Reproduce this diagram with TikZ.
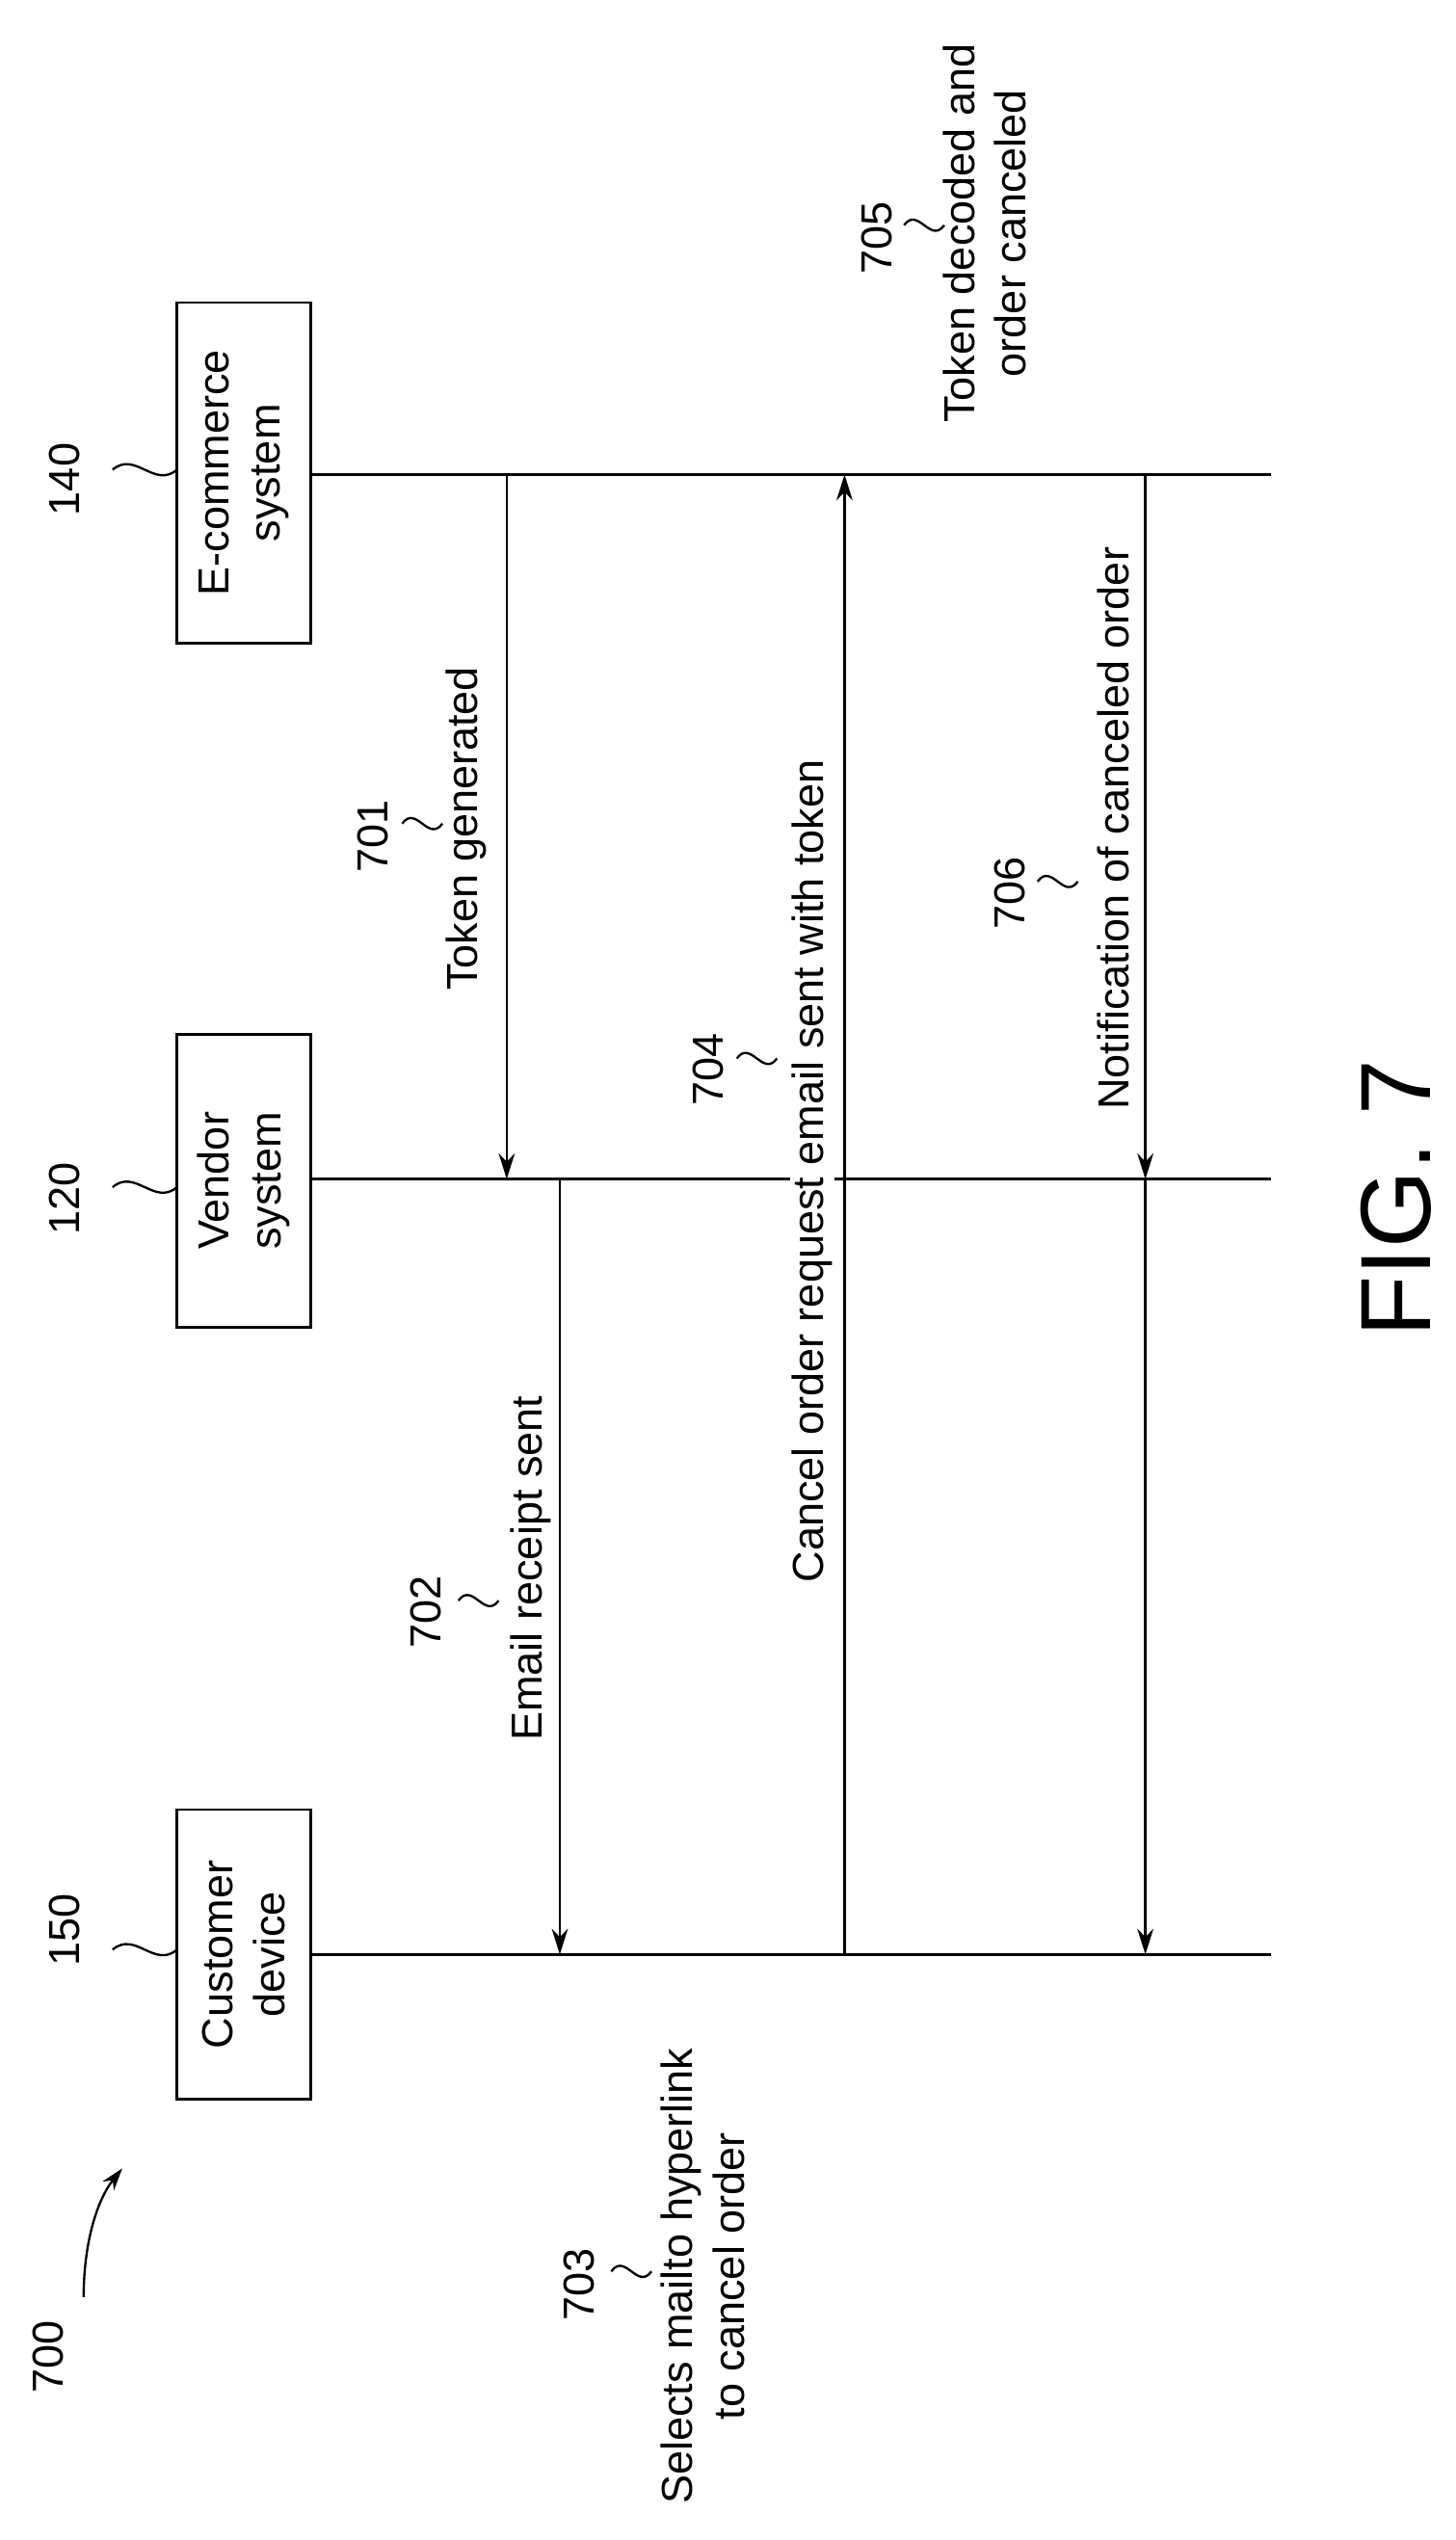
\documentclass[tikz,border=0pt]{standalone}
\usepackage{fontspec}
\setmainfont{Liberation Sans}
\usetikzlibrary{arrows.meta}
\begin{document}
\begin{tikzpicture}[x=1pt,y=-1pt,line width=1.6pt,
  txt/.style={rotate=90,font=\fontsize{27}{32}\selectfont,align=center,inner sep=1pt},
  box/.style={draw,rotate=90,minimum width=180pt,minimum height=83pt,font=\fontsize{27}{32}\selectfont,align=center},
  arr/.style={-{Stealth[length=16pt,width=10pt]}},
  sq/.style={line width=1.4pt}]
\useasboundingbox (0,0) rectangle (905,1579);
\fill[white] (0,0) rectangle (905,1579);
% boxes
\node[box,minimum width=212pt] (ec) at (151.5,294) {E-commerce\\system};
\node[box,minimum width=182pt] (vs) at (151.5,734) {Vendor\\system};
\node[box] (cd) at (151.5,1215) {Customer\\device};
% lifelines
\coordinate (e0) at (193,295); \coordinate (e1) at (790,295);
\coordinate (v0) at (193,733); \coordinate (v1) at (790,733);
\coordinate (c0) at (193,1215); \coordinate (c1) at (790,1215);
\draw (e0)--(e1); \draw (v0)--(v1); \draw (c0)--(c1);
% arrows
\coordinate (a1s) at (315,295); \coordinate (a1e) at (315,733);
\draw[arr] (a1s)--(a1e);
\coordinate (a2s) at (348,733); \coordinate (a2e) at (348,1215);
\draw[arr] (a2s)--(a2e);
\coordinate (a4s) at (525,1215); \coordinate (a4e) at (525,295);
\draw[arr] (a4s)--(a4e);
\coordinate (a6s) at (712,295); \coordinate (a6m) at (712,733); \coordinate (a6e) at (712,1215);
\draw[arr] (a6s)--(a6m); \draw[arr] (a6m)--(a6e);
% labels
\node[txt,fill=white] (t1) at (290,515) {Token generated};
\node[txt,fill=white] (t2) at (330,975) {Email receipt sent};
\node[txt,fill=white] (t4) at (505,728) {Cancel order request email sent with token};
\node[txt] (t5) at (612,145) {Token decoded and\\order canceled};
\node[txt,fill=white] (t6) at (692,515) {Notification of canceled order};
\node[txt] (t3) at (437,1415) {Selects mailto hyperlink\\to cancel order};
% numbers
\node[txt] (n140) at (40,298) {140};
\node[txt] (n120) at (40,745) {120};
\node[txt] (n150) at (40,1200) {150};
\node[txt] (n701) at (232,520) {701};
\node[txt] (n702) at (265,1002) {702};
\node[txt] (n703) at (360,1420) {703};
\node[txt] (n704) at (440,665) {704};
\node[txt] (n705) at (545,148) {705};
\node[txt] (n706) at (628,555) {706};
\node[txt] (n700) at (30,1465) {700};
% squiggles
\foreach \n/\x/\y/\l in {n140/70/292/40,n120/70/738/40,n150/70/1212/40,n701/250/512/25,n702/285/995/25,n703/380/1412/25,n704/458/658/25,n705/562/140/25,n706/645/548/25}{
  \draw[sq] (\x,\y) .. controls (\x+0.35*\l,\y-12) and (\x+0.65*\l,\y+12) .. (\x+\l,\y);
}
\coordinate (p700) at (52,1428); \coordinate (q700) at (76,1348);
\draw[sq,-{Stealth[length=14pt,width=9pt]}] (p700) .. controls (52,1395) and (60,1368) .. (q700);
\node[rotate=90,font=\fontsize{62}{70}\selectfont] (fig) at (868,745) {FIG. 7};
\end{tikzpicture}
\end{document}
